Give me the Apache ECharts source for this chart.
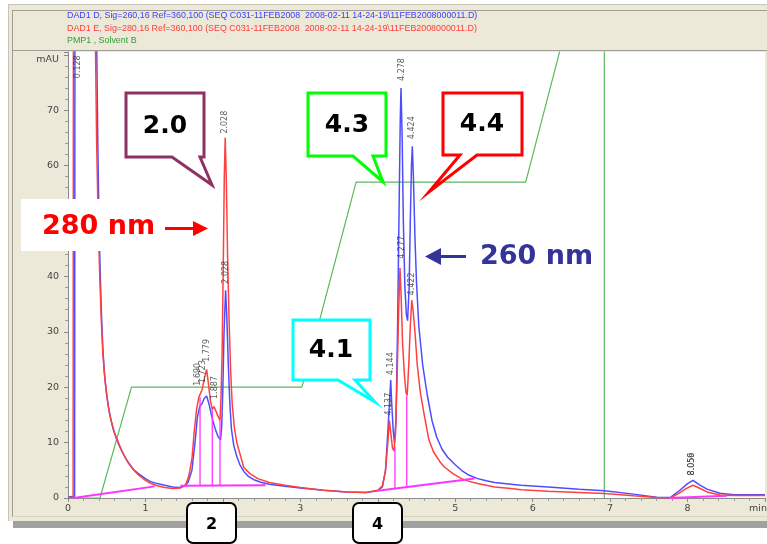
<!DOCTYPE html>
<html><head><meta charset="utf-8">
<script src="https://cdn.jsdelivr.net/npm/echarts@6/dist/echarts.min.js"></script>
<style>
html,body{margin:0;padding:0;background:#fff;width:767px;height:544px;overflow:hidden;}
.f{position:absolute;box-sizing:border-box;}
#chart{position:absolute;left:0;top:0;width:767px;height:544px;z-index:2;}
</style></head><body>
<div class="f" style="left:8px;top:4px;width:760px;height:517px;background:#ECE9D8;border-left:1px solid #c8c5b8;border-top:1px solid #c8c5b8;"></div>
<div class="f" style="left:13px;top:521px;width:755px;height:7px;background:#a0a0a0;"></div>
<div class="f" style="left:12px;top:10px;width:756px;height:41px;border:1px solid #a09e94;border-right:none;"></div>
<div class="f" style="left:12px;top:51px;width:756px;height:466px;border-left:1px solid #a09e94;border-bottom:1px solid #d8d5c8;"></div>
<div id="chart"></div>
<script>
// ---- data (time in min, absorbance in mAU) ----
const headerLines = [
  'DAD1 D, Sig=260,16 Ref=360,100 (SEQ C031-11FEB2008  2008-02-11 14-24-19\\11FEB2008000011.D)',
  'DAD1 E, Sig=280,16 Ref=360,100 (SEQ C031-11FEB2008  2008-02-11 14-24-19\\11FEB2008000011.D)',
  'PMP1 , Solvent B'
];
const xTickMax = 9;
const yTickMax = 80;

const blue260 = [
[0,0.2],[0.085,0.3],[0.09,95],[0.2,120],[0.3,120],[0.365,95],[0.372,80],[0.385,64],[0.40,50],[0.415,41],[0.43,34],[0.45,27],[0.47,22.5],[0.50,18.5],[0.54,15],[0.58,12.6],[0.62,10.9],[0.66,9.5],[0.70,8.3],[0.75,7.0],[0.80,6.0],[0.85,5.1],[0.90,4.5],[0.95,4.0],[1.00,3.5],[1.06,3.0],[1.15,2.6],[1.25,2.3],[1.35,2.0],[1.44,1.9],[1.50,2.1],[1.55,2.8],[1.60,5.0],[1.64,10.0],[1.67,14.5],[1.70,16.5],[1.73,17.0],[1.76,18.0],[1.79,18.4],[1.82,17.0],[1.86,14.5],[1.90,12.5],[1.94,11.0],[1.97,10.5],[1.985,13],[2.0,20],[2.015,30],[2.035,37.5],[2.05,33],[2.07,24],[2.09,17],[2.11,12.5],[2.14,9.5],[2.18,7.5],[2.22,6],[2.27,4.8],[2.33,3.9],[2.40,3.3],[2.50,2.8],[2.60,2.5],[2.80,2.1],[3.00,1.8],[3.30,1.4],[3.60,1.1],[3.85,1.0],[4.00,1.3],[4.06,2.0],[4.10,5.0],[4.13,12.0],[4.15,17.0],[4.167,21.3],[4.18,17.0],[4.20,12.0],[4.215,10.0],[4.235,14.0],[4.255,30.0],[4.275,52.0],[4.29,68],[4.30,74.0],[4.315,65.0],[4.33,50.0],[4.35,38.0],[4.37,33.0],[4.385,32.0],[4.405,38.0],[4.42,50.0],[4.435,60],[4.446,63.5],[4.46,58.0],[4.48,47.0],[4.50,39.0],[4.53,31.0],[4.58,24.0],[4.64,18.5],[4.70,14.0],[4.76,11.0],[4.83,8.8],[4.90,7.4],[5.00,6.0],[5.08,5.0],[5.18,4.1],[5.29,3.5],[5.40,3.1],[5.51,2.8],[5.72,2.5],[5.85,2.3],[6.20,2.0],[6.60,1.6],[6.93,1.3],[7.30,0.7],[7.60,0.15],[7.78,0.1],[7.90,1.4],[8.00,2.6],[8.07,3.2],[8.15,2.4],[8.25,1.6],[8.42,0.85],[8.60,0.6],[9.00,0.6]
];
const red280 = [
[0,0.1],[0.066,0.1],[0.07,95],[0.2,120],[0.3,120],[0.35,95],[0.356,80],[0.37,64],[0.39,50],[0.41,40],[0.43,32],[0.45,26],[0.48,21],[0.52,16.5],[0.56,13.8],[0.60,11.8],[0.65,10],[0.70,8.4],[0.75,7.0],[0.80,5.9],[0.85,5.0],[0.90,4.3],[0.95,3.7],[1.00,3.2],[1.06,2.7],[1.15,2.2],[1.25,1.9],[1.35,1.7],[1.45,1.8],[1.52,2.4],[1.56,4],[1.60,7],[1.63,12],[1.66,16],[1.69,18.2],[1.705,18.0],[1.73,19.5],[1.76,21.5],[1.79,23.2],[1.81,21],[1.84,17.5],[1.863,16.0],[1.885,16.5],[1.905,16.2],[1.93,15],[1.963,14],[1.975,18],[1.99,26],[2.005,42],[2.018,58],[2.03,65],[2.045,57],[2.06,44],[2.08,32],[2.10,23],[2.12,17],[2.15,12.5],[2.18,10],[2.22,8],[2.27,5.5],[2.35,4.4],[2.45,3.5],[2.6,2.8],[2.8,2.3],[3.0,1.9],[3.3,1.4],[3.6,1.1],[3.85,1.0],[4.0,1.4],[4.06,2.2],[4.10,5],[4.13,10],[4.15,14],[4.17,11.5],[4.19,9],[4.21,8.5],[4.23,12],[4.25,22],[4.27,34],[4.287,41.5],[4.30,37],[4.32,28],[4.345,22],[4.365,19],[4.38,18.5],[4.40,24],[4.42,31],[4.438,35.7],[4.455,34],[4.48,30],[4.51,24],[4.55,19],[4.60,15],[4.66,10.5],[4.72,8.3],[4.80,6.6],[4.86,5.6],[4.97,4.4],[5.08,3.5],[5.18,3.0],[5.29,2.6],[5.40,2.3],[5.51,2.0],[5.72,1.7],[5.85,1.5],[6.2,1.2],[6.6,1.0],[6.93,0.8],[7.3,0.4],[7.6,0.1],[7.78,0],[7.88,0.8],[7.98,1.7],[8.07,2.3],[8.15,1.8],[8.25,1.1],[8.42,0.55],[8.6,0.45],[9,0.45]
];
const solventB = [[0,0],[0.413,0],[0.82,20],[3.02,20],[3.72,57],[5.91,57],[6.71,100],[6.925,100],[6.925,0]];

const baselineSegs = [[0.07,0,1.12,2.1],[1.45,2.2,2.55,2.3],[4.0,1.3,5.25,3.5],[7.76,0,8.51,0.4]];
const dropTimes = [1.705,1.863,1.963,4.222,4.374];
const dropTops  = [18.2,16.0,14.0,9.2,18.4];
const dropBases = [2.25,2.25,2.3,1.7,2.0];

const peakLabelTimes = [0.13,1.683,1.74,1.795,1.898,2.027,2.04,4.149,4.167,4.309,4.309,4.446,4.438,8.05,8.058];
const peakLabelVals  = [75.5,20,20.5,24.3,17.6,65.5,38.4,14.6,21.9,42.9,75,64.5,36.3,3.8,3.8];
const peakLabelText  = ['0.128','1.690','1.723','1.779','1.887','2.028','2.028','4.137','4.144','4.277','4.278','4.424','4.422','8.056','8.059'];

// ---- chart ----
const chart = echarts.init(document.getElementById('chart'), null, {renderer:'canvas'});
const series = [];
series.push({type:'line', name:'Solvent B', data:solventB, symbol:'none', lineStyle:{color:'#5cb85c', width:1.2}, z:2});
series.push({type:'line', name:'260 nm', data:blue260, symbol:'none', lineStyle:{color:'#4d4dff', width:1.5}, z:3});
series.push({type:'line', name:'280 nm', data:red280, symbol:'none', lineStyle:{color:'#ff4040', width:1.5}, z:4});
baselineSegs.forEach(s => series.push({type:'line', data:[[s[0],s[1]],[s[2],s[3]]], symbol:'none', lineStyle:{color:'#ff33ff', width:2}, z:5}));
dropTimes.forEach((t,i) => series.push({type:'line', data:[[t,dropBases[i]],[t,dropTops[i]]], symbol:'none', lineStyle:{color:'#ff33ff', width:1.3}, z:5}));
series.push({
  type:'scatter', symbolSize:1, itemStyle:{color:'rgba(0,0,0,0)'}, z:6,
  data: peakLabelTimes.map((t,i)=>({value:[t,peakLabelVals[i]], name:peakLabelText[i]})),
  label:{show:true, formatter:p=>p.name, rotate:90, position:'top', distance:1, align:'left', verticalAlign:'middle',
    fontSize:8, fontFamily:'DejaVu Sans', color:'#333'}
});
series.forEach(s=>{s.animation=false; s.silent=true;});

const font = 'DejaVu Sans';
const graphic = [];
headerLines.forEach((t,i)=>graphic.push({type:'text', x:67, y:16+i*12.3, z:100,
  style:{text:t, fill:['#3c3cff','#ff3c3c','#2e9e2e'][i], font:'8.9px "Liberation Sans"', textVerticalAlign:'middle'}}));
function callout(pts, color, label, cx, cy){
  graphic.push({type:'polygon', z:100, shape:{points:pts}, style:{fill:'#fff', stroke:color, lineWidth:3, lineJoin:'miter'}});
  graphic.push({type:'text', z:101, x:cx, y:cy, style:{text:label, fill:'#000', font:'bold 25px "'+font+'"', textAlign:'center', textVerticalAlign:'middle'}});
}
callout([[126,93],[204,93],[204,157],[200,157],[212,185],[172,157],[126,157]], '#8c3264', '2.0', 165, 126);
callout([[308,93],[386,93],[386,156],[373,156],[383,182],[353,156],[308,156]], '#00ff00', '4.3', 347, 125);
callout([[443,93],[522,93],[522,155],[477,155],[429,192],[460,155],[443,155]], '#ff0000', '4.4', 482, 124);
callout([[293,320],[370,320],[370,380],[355,380],[375,402],[338,380],[293,380]], '#00ffff', '4.1', 331, 350);
graphic.push({type:'rect', z:100, shape:{x:21,y:199,width:192,height:52}, style:{fill:'#fff'}});
graphic.push({type:'text', z:101, x:42, y:227, style:{text:'280 nm', fill:'#ff0000', font:'bold 27px "'+font+'"', textVerticalAlign:'middle'}});
graphic.push({type:'line', z:101, shape:{x1:165,y1:228.5,x2:195,y2:228.5}, style:{stroke:'#ff0000', lineWidth:3}});
graphic.push({type:'polygon', z:101, shape:{points:[[193,221],[208,228.5],[193,236]]}, style:{fill:'#ff0000'}});
graphic.push({type:'text', z:101, x:480, y:257, style:{text:'260 nm', fill:'#333399', font:'bold 27px "'+font+'"', textVerticalAlign:'middle'}});
graphic.push({type:'line', z:101, shape:{x1:439,y1:256.5,x2:466,y2:256.5}, style:{stroke:'#333399', lineWidth:3}});
graphic.push({type:'polygon', z:101, shape:{points:[[425,256.5],[441,248],[441,265]]}, style:{fill:'#333399'}});
[['2',187],['4',353]].forEach(b=>{
  graphic.push({type:'rect', z:100, shape:{x:b[1],y:503,width:49,height:40,r:6}, style:{fill:'#fff', stroke:'#000', lineWidth:2}});
  graphic.push({type:'text', z:101, x:b[1]+24.5, y:524.5, style:{text:b[0], fill:'#000', font:'bold 16px "'+font+'"', textAlign:'center', textVerticalAlign:'middle'}});
});

chart.setOption({
  animation:false,
  backgroundColor:'transparent',
  grid:{left:68, right:2, top:52, bottom:46, show:true, backgroundColor:'#fff', borderWidth:0, outerBoundsMode:'none'},
  xAxis:{type:'value', min:0, max:xTickMax, interval:1,
    axisLine:{show:true, onZero:false, lineStyle:{color:'#8a8a8a'}},
    axisTick:{show:true, length:4, lineStyle:{color:'#8a8a8a'}},
    minorTick:{show:true, splitNumber:5, length:3, lineStyle:{color:'#9a9a9a'}},
    splitLine:{show:false},
    axisLabel:{showMaxLabel:true, margin:6, fontSize:9.5, fontFamily:font, color:'#444',
      formatter:v=> v===xTickMax ? '{r|min}' : String(v), rich:{r:{fontSize:9.5, fontFamily:font, color:'#444', padding:[0,14,0,0]}}}
  },
  yAxis:{type:'value', min:0, max:80.5, interval:10,
    axisLine:{show:true, lineStyle:{color:'#8a8a8a'}},
    axisTick:{show:true, length:4, lineStyle:{color:'#8a8a8a'}},
    minorTick:{show:true, splitNumber:5, length:3, lineStyle:{color:'#9a9a9a'}},
    splitLine:{show:false},
    axisLabel:{margin:9, fontSize:9.5, fontFamily:font, color:'#444',
      formatter:v=> v===yTickMax ? '{m|mAU}' : String(v), rich:{m:{fontSize:9.5, fontFamily:font, color:'#444', padding:[9,0,0,0]}}}
  },
  series:series,
  graphic:graphic
});
</script>
</body></html>
